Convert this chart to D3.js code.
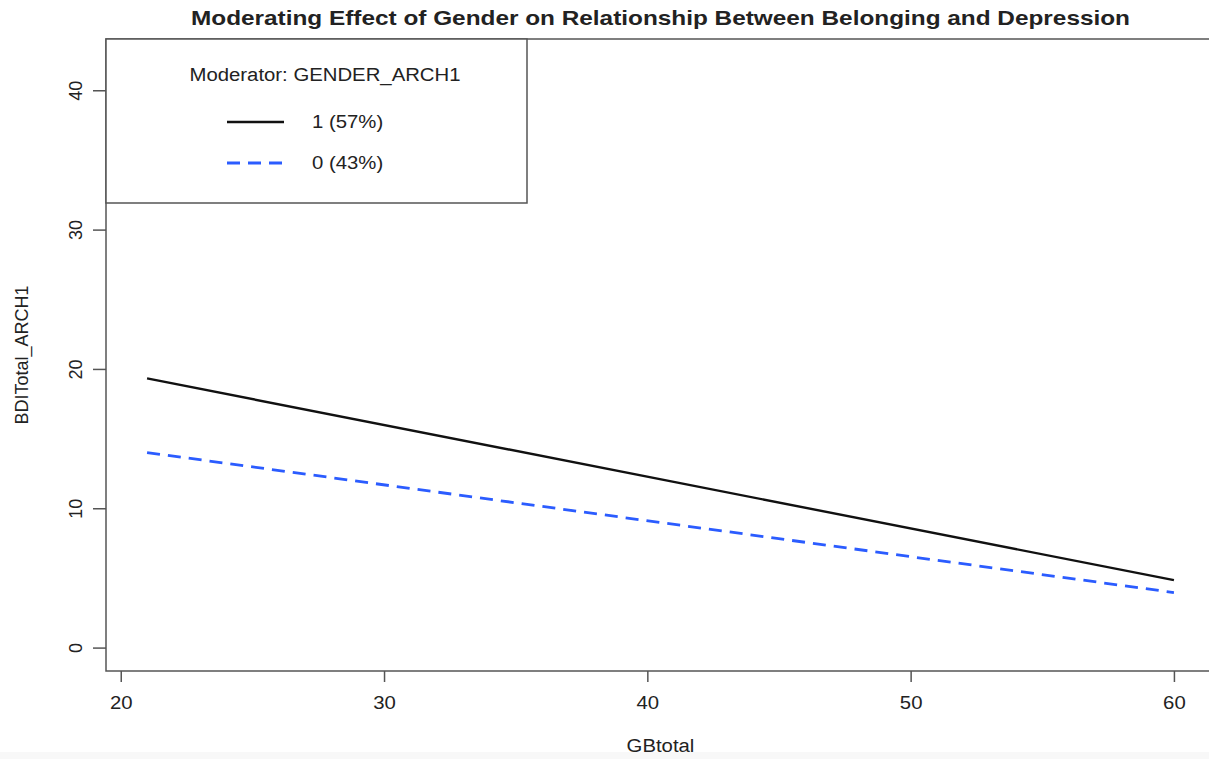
<!DOCTYPE html>
<html>
<head>
<meta charset="utf-8">
<script src="https://cdn.jsdelivr.net/npm/d3@7"></script>
<style>
  body { margin: 0; background: #fff; }
  text { font-family: "Liberation Sans", Arial, Helvetica, sans-serif; fill: #222; }
</style>
</head>
<body>
<svg id="chart" width="1209" height="759"></svg>
<script>
// data
var gbRange = [21, 60];
var seriesNames = ["1 (57%)", "0 (43%)"];
var seriesColors = ["#111111", "#2b5cff"];
var seriesDash = [null, "13,8"];
var bdiValues = [
  [19.32, 4.84],   // gender 1
  [14.0, 3.95]     // gender 0
];
var xTicks = [20, 30, 40, 50, 60];
var yTicks = [0, 10, 20, 30, 40];

(function() {
  var width = 1209, height = 759;
  var svg = d3.select("#chart");

  // plot region (R style, 4% padding on each side)
  var m = {left: 106, right: 1215, top: 39, bottom: 671};
  var stretch = "scale(1.13,1)";

  var x = d3.scaleLinear().domain([19.44, 61.56]).range([m.left, m.right]);
  var y = d3.scaleLinear().domain([-1.68, 43.68]).range([m.bottom, m.top]);

  // faint strip at the very bottom of the picture
  svg.append("rect")
    .attr("x", 0).attr("y", 752).attr("width", width).attr("height", 7)
    .attr("fill", "#f8f8f8");

  // box round the plot
  svg.append("rect")
    .attr("x", m.left).attr("y", m.top)
    .attr("width", m.right - m.left).attr("height", m.bottom - m.top)
    .attr("fill", "none").attr("stroke", "#555").attr("stroke-width", 1.5);

  // x axis
  var xAxis = svg.append("g")
    .attr("transform", "translate(0," + m.bottom + ")")
    .call(d3.axisBottom(x).tickValues(xTicks).tickSize(11).tickPadding(14).tickFormat(d3.format("d")));
  xAxis.select(".domain").remove();
  xAxis.selectAll("line").attr("stroke", "#555").attr("stroke-width", 1.5);
  xAxis.selectAll("text")
    .attr("fill", "#222")
    .attr("transform", stretch)
    .style("font-size", "18px")
    .style("font-family", "Liberation Sans, Arial, sans-serif");

  // y axis (labels turned like R's las=0)
  var yAxis = svg.append("g")
    .attr("transform", "translate(" + m.left + ",0)")
    .call(d3.axisLeft(y).tickValues(yTicks).tickSize(13).tickFormat(d3.format("d")));
  yAxis.select(".domain").remove();
  yAxis.selectAll("line").attr("stroke", "#555").attr("stroke-width", 1.5);
  yAxis.selectAll("text")
    .attr("x", null).attr("dy", null)
    .attr("text-anchor", "middle")
    .attr("transform", "translate(-30,0) rotate(-90) translate(0,6)")
    .attr("fill", "#222")
    .style("font-size", "18px")
    .style("font-family", "Liberation Sans, Arial, sans-serif");

  // lines
  var line = d3.line()
    .x(function(d) { return x(d[0]); })
    .y(function(d) { return y(d[1]); });

  bdiValues.forEach(function(vals, i) {
    svg.append("path")
      .datum([[gbRange[0], vals[0]], [gbRange[1], vals[1]]])
      .attr("d", line)
      .attr("fill", "none")
      .attr("stroke", seriesColors[i])
      .attr("stroke-width", i === 0 ? 2.4 : 2.8)
      .attr("stroke-dasharray", seriesDash[i]);
  });

  // title
  svg.append("text")
    .attr("transform", "translate(" + ((m.left + m.right) / 2) + ",25) scale(1.16,1)")
    .attr("text-anchor", "middle")
    .style("font-size", "21px").style("font-weight", "bold")
    .attr("fill", "#111")
    .text("Moderating Effect of Gender on Relationship Between Belonging and Depression");

  // axis titles
  svg.append("text")
    .attr("transform", "translate(" + ((m.left + m.right) / 2) + ",752) " + stretch)
    .attr("text-anchor", "middle")
    .style("font-size", "18px")
    .text("GBtotal");

  svg.append("text")
    .attr("transform", "translate(28," + ((m.top + m.bottom) / 2) + ") rotate(-90)")
    .attr("text-anchor", "middle")
    .style("font-size", "18px")
    .text("BDITotal_ARCH1");

  // legend
  var legend = svg.append("g");
  legend.append("rect")
    .attr("x", m.left).attr("y", m.top)
    .attr("width", 527 - m.left).attr("height", 203 - m.top)
    .attr("fill", "#fff").attr("stroke", "#555").attr("stroke-width", 1.5);

  legend.append("text")
    .attr("transform", "translate(325,81) " + stretch)
    .attr("text-anchor", "middle")
    .style("font-size", "18px")
    .text("Moderator: GENDER_ARCH1");

  seriesNames.forEach(function(name, i) {
    var ly = 122 + i * 41;
    legend.append("line")
      .attr("x1", 227).attr("x2", 284)
      .attr("y1", ly).attr("y2", ly)
      .attr("stroke", seriesColors[i])
      .attr("stroke-width", i === 0 ? 2.4 : 2.8)
      .attr("stroke-dasharray", seriesDash[i]);
    legend.append("text")
      .attr("transform", "translate(312," + (ly + 6) + ") " + stretch)
      .style("font-size", "18px")
      .text(name);
  });
})();
</script>
</body>
</html>
